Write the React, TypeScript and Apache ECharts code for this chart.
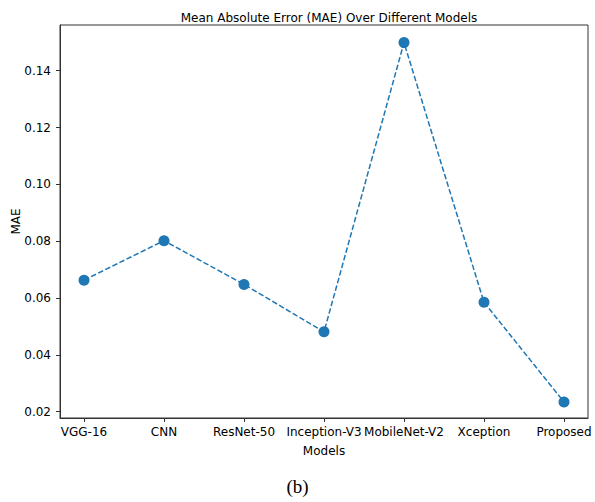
import React, { useEffect, useRef } from "react";
import * as echarts from "echarts";

const models = ["VGG-16", "CNN", "ResNet-50", "Inception-V3", "MobileNet-V2", "Xception", "Proposed"];
const maeValues = [0.0663, 0.0802, 0.0648, 0.0481, 0.1499, 0.0585, 0.0234];
const yTicks = [0.02, 0.04, 0.06, 0.08, 0.1, 0.12, 0.14];
const xTicks = models.map((_, i) => i);

const FONT = "DejaVu Sans";

export default function App() {
  const ref = useRef<HTMLDivElement>(null);
  useEffect(() => {
    if (!ref.current) return;
    const chart = echarts.init(ref.current, null, { renderer: "svg" });
    chart.setOption({
      animation: false,
      backgroundColor: "#ffffff",
      title: {
        text: "Mean Absolute Error (MAE) Over Different Models",
        left: 324,
        top: 7,
        textAlign: "center",
        textStyle: { fontFamily: FONT, fontSize: 12, fontWeight: "normal", color: "#000" },
      },
      grid: {
        left: 60,
        top: 25,
        width: 528,
        height: 393,
        show: true,
        borderColor: "#333",
        borderWidth: 1,
        backgroundColor: "transparent",
        containLabel: false,
        outerBoundsMode: "none",
      },
      xAxis: {
        type: "value",
        min: -0.3,
        max: 6.3,
        name: "Models",
        nameLocation: "middle",
        nameGap: 27,
        nameMoveOverlap: false,
        nameTextStyle: { fontFamily: FONT, fontSize: 12, color: "#000" },
        axisLine: { show: true, onZero: false, lineStyle: { color: "#333", width: 1 } },
        axisTick: { show: true, customValues: xTicks, length: 4, lineStyle: { color: "#333" } },
        axisLabel: {
          customValues: xTicks,
          formatter: (v: number) => models[Math.round(v)] ?? "",
          fontFamily: FONT,
          fontSize: 12,
          color: "#000",
          margin: 8,
          hideOverlap: false,
        },
        splitLine: { show: false },
      },
      yAxis: {
        type: "value",
        min: 0.01778,
        max: 0.1561,
        name: "MAE",
        nameLocation: "middle",
        nameGap: 38,
        nameMoveOverlap: false,
        nameTextStyle: { fontFamily: FONT, fontSize: 12, color: "#000" },
        axisLine: { show: true, onZero: false, lineStyle: { color: "#333", width: 1 } },
        axisTick: { show: true, customValues: yTicks, length: 4, lineStyle: { color: "#333" } },
        axisLabel: {
          customValues: yTicks,
          formatter: (v: number) => v.toFixed(2),
          fontFamily: FONT,
          fontSize: 12,
          color: "#000",
          margin: 9,
        },
        splitLine: { show: false },
      },
      series: [
        {
          type: "line",
          data: maeValues.map((v, i) => [i, v]),
          symbol: "circle",
          symbolSize: 11,
          itemStyle: { color: "#1f77b4" },
          lineStyle: { color: "#1f77b4", width: 1.5, type: [5.5, 2.4] },
        },
      ],
      graphic: [
        {
          type: "text",
          left: "center",
          top: 477,
          style: {
            text: "(b)",
            fontFamily: "Liberation Serif",
            fontSize: 19,
            fill: "#000",
          },
        },
      ],
    });
    return () => chart.dispose();
  }, []);
  return (
    <div
      ref={ref}
      style={{ position: "fixed", left: 0, top: 0, width: 595, height: 502, background: "#fff" }}
    />
  );
}
